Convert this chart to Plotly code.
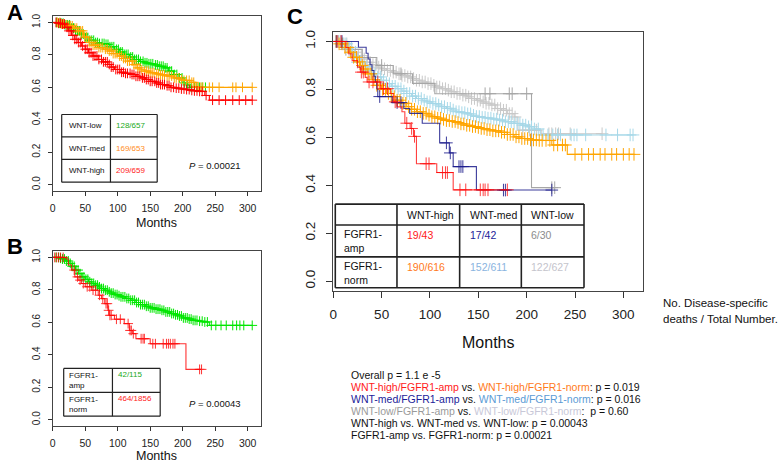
import numpy as np
import plotly.graph_objects as go

W, H = 778, 462

# ---------------- DATA ----------------
TICKS_X = [0, 50, 100, 150, 200, 250, 300]
TICKS_Y = [0.0, 0.2, 0.4, 0.6, 0.8, 1.0]
TICK_Y_TEXT = ["0.0", "0.2", "0.4", "0.6", "0.8", "1.0"]

# Panel A: WNT-low / WNT-med / WNT-high
a_low_t = [0, 10, 19, 27, 34, 42, 50, 57, 65, 72, 80, 88, 95, 103, 110, 118, 125, 133, 140, 148, 156, 164, 171, 178, 186, 193, 201, 206, 211]
a_low_s = [1.0, 0.995, 0.985, 0.965, 0.948, 0.928, 0.907, 0.89, 0.876, 0.87, 0.865, 0.85, 0.834, 0.818, 0.803, 0.787, 0.772, 0.76, 0.751, 0.745, 0.738, 0.73, 0.72, 0.70, 0.679, 0.658, 0.627, 0.615, 0.60]
a_low_c = [6, 10, 13, 16, 19, 23, 26, 29, 32, 35, 38, 41, 44, 47, 51, 54, 57, 60, 63, 66, 69, 72, 76, 79, 82, 85, 88, 91, 94, 98, 101, 104, 107, 110, 113, 116, 120, 123, 126, 129, 132, 135, 139, 142, 145, 148, 151, 154, 158, 161, 164, 167, 170, 173, 176, 180, 183, 187, 191, 195, 199, 203, 207, 213, 218, 222, 226, 230, 235]

a_med_t = [0, 12, 18, 24, 32, 39, 47, 55, 62, 70, 78, 85, 93, 100, 108, 115, 123, 130, 136, 141, 150, 158, 166, 175, 186, 195, 201, 211, 219]
a_med_s = [1.0, 0.99, 0.985, 0.979, 0.965, 0.948, 0.91, 0.876, 0.86, 0.845, 0.835, 0.824, 0.808, 0.793, 0.778, 0.762, 0.74, 0.72, 0.708, 0.70, 0.69, 0.683, 0.677, 0.67, 0.658, 0.65, 0.643, 0.631, 0.60]
a_med_c = [7, 11, 14, 17, 21, 24, 27, 30, 34, 37, 40, 43, 46, 49, 52, 56, 59, 62, 65, 68, 71, 74, 77, 81, 84, 87, 90, 93, 96, 99, 103, 106, 109, 112, 115, 118, 122, 125, 128, 131, 134, 137, 141, 144, 147, 150, 153, 156, 160, 163, 166, 169, 172, 176, 179, 183, 187, 190, 194, 198, 202, 206, 210, 214, 217, 221, 224, 228, 231, 241, 246, 256, 277, 282, 292, 307]

a_high_t = [0, 8, 14, 19, 24, 29, 34, 39, 44, 50, 55, 62, 70, 77, 85, 90, 95, 105, 112, 120, 128, 135, 143, 150, 158, 166, 173, 181, 188, 196, 204, 211, 218, 226, 234, 241]
a_high_s = [1.0, 0.995, 0.99, 0.97, 0.948, 0.92, 0.896, 0.876, 0.855, 0.835, 0.813, 0.793, 0.772, 0.757, 0.741, 0.725, 0.71, 0.693, 0.686, 0.679, 0.668, 0.658, 0.648, 0.637, 0.627, 0.617, 0.61, 0.60, 0.595, 0.59, 0.586, 0.581, 0.578, 0.575, 0.55, 0.521]
a_high_c = [5, 9, 12, 15, 18, 22, 25, 28, 31, 34, 37, 40, 43, 46, 50, 53, 56, 59, 62, 65, 68, 71, 75, 78, 81, 84, 87, 90, 93, 97, 100, 103, 106, 109, 112, 115, 119, 122, 125, 128, 131, 134, 138, 141, 144, 147, 150, 153, 157, 160, 163, 166, 169, 172, 176, 179, 182, 186, 190, 194, 198, 202, 206, 210, 214, 218, 222, 226, 230, 236, 246, 256, 266, 277, 287, 297, 307]

a_rows = ["WNT-low", "WNT-med", "WNT-high"]
a_counts = ["128/657", "169/653", "209/659"]
a_p = "0.00021"

# Panel B: FGFR1-norm (green curve) / FGFR1-amp (red curve)
b_norm_t = [0, 10, 15, 20, 25, 30, 35, 40, 45, 50, 55, 60, 65, 70, 75, 80, 85, 90, 95, 100, 105, 112, 120, 128, 135, 143, 150, 158, 166, 173, 181, 188, 195, 201, 208, 216, 223, 231, 241]
b_norm_s = [1.0, 0.995, 0.99, 0.978, 0.963, 0.945, 0.922, 0.90, 0.88, 0.865, 0.85, 0.84, 0.829, 0.818, 0.808, 0.798, 0.788, 0.78, 0.771, 0.764, 0.757, 0.747, 0.736, 0.722, 0.709, 0.699, 0.689, 0.681, 0.674, 0.664, 0.654, 0.646, 0.639, 0.627, 0.62, 0.612, 0.607, 0.602, 0.581]
b_norm_c = [5, 9, 12, 15, 18, 21, 24, 27, 30, 33, 36, 39, 42, 45, 48, 51, 54, 57, 60, 63, 66, 69, 72, 75, 78, 81, 84, 87, 90, 93, 96, 99, 102, 105, 108, 111, 114, 117, 120, 123, 126, 129, 132, 135, 138, 141, 144, 147, 150, 153, 156, 159, 162, 165, 168, 171, 174, 177, 180, 183, 186, 189, 192, 195, 198, 201, 204, 207, 210, 213, 216, 219, 222, 226, 230, 234, 238, 244, 251, 259, 267, 277, 283, 288, 294, 307]

b_amp_t = [0, 20, 24, 29, 34, 39, 44, 50, 60, 70, 75, 80, 85, 87, 95, 110, 118, 123, 128, 150, 205]
b_amp_s = [1.0, 0.99, 0.953, 0.922, 0.88, 0.86, 0.839, 0.819, 0.798, 0.767, 0.746, 0.715, 0.674, 0.643, 0.619, 0.592, 0.55, 0.53, 0.499, 0.468, 0.31]
b_amp_c = [3, 6, 9, 12, 16, 33, 38, 42, 47, 53, 57, 62, 66, 72, 77, 82, 84, 86, 88, 90, 98, 104, 116, 119, 121, 124, 136, 139, 141, 154, 158, 170, 175, 178, 181, 185, 188, 226, 229]

b_rows = ["FGFR1-<br>amp", "FGFR1-<br>norm"]
b_counts = ["42/115", "464/1856"]
b_p = "0.00043"

# Panel C: six groups
c_hi_amp_t = [0, 13, 16, 19.5, 25, 28, 33, 35, 49, 59, 62, 66, 71, 74, 79.5, 83, 86, 107, 124]
c_hi_amp_s = [1.0, 0.975, 0.948, 0.92, 0.893, 0.872, 0.85, 0.831, 0.803, 0.783, 0.748, 0.727, 0.707, 0.659, 0.637, 0.604, 0.49, 0.453, 0.381]
c_hi_amp_c = [4, 8, 29, 31, 37, 41, 46, 52, 56, 64, 76, 81, 84, 96, 99, 113, 116, 118, 131, 137, 152, 155, 157, 160, 180]

c_med_amp_t = [0, 26, 34, 36, 38, 40, 42, 43.5, 45, 46, 61, 73, 79, 92, 110, 120, 124, 148]
c_med_amp_s = [1.0, 0.976, 0.951, 0.927, 0.903, 0.879, 0.855, 0.831, 0.803, 0.77, 0.745, 0.72, 0.70, 0.659, 0.577, 0.535, 0.478, 0.38]
c_med_amp_c = [3, 9, 48, 66, 70, 117, 121, 130, 132, 134, 176, 178, 226]

c_low_amp_t = [0, 9, 30, 45, 62, 82, 105, 205]
c_low_amp_s = [1.0, 0.967, 0.933, 0.90, 0.865, 0.825, 0.782, 0.39]
c_low_amp_c = [5, 13, 50, 70, 157, 162, 182, 185, 200, 226, 229]

c_hi_norm_t = [0, 6, 12, 17, 21, 25, 28, 31, 35, 40, 45, 50, 55, 60, 66, 71, 76, 81, 86, 92, 97, 102, 107, 112, 117, 122, 127, 132, 138, 143, 148, 153, 158, 165, 173, 180, 187, 195, 204, 212, 226, 242]
c_hi_norm_s = [1.0, 0.99, 0.975, 0.955, 0.934, 0.915, 0.90, 0.885, 0.865, 0.84, 0.817, 0.80, 0.783, 0.77, 0.755, 0.742, 0.728, 0.717, 0.707, 0.70, 0.693, 0.686, 0.68, 0.675, 0.67, 0.666, 0.662, 0.656, 0.65, 0.645, 0.641, 0.637, 0.632, 0.627, 0.621, 0.612, 0.602, 0.595, 0.589, 0.587, 0.568, 0.529]
c_hi_norm_c = [3, 6, 9, 12, 15, 18, 21, 24, 27, 30, 33, 36, 39, 42, 45, 48, 51, 54, 57, 60, 63, 66, 69, 72, 75, 78, 81, 84, 87, 90, 93, 96, 99, 102, 105, 108, 111, 114, 117, 120, 123, 126, 129, 132, 135, 138, 141, 144, 147, 150, 153, 156, 159, 162, 165, 168, 171, 174, 177, 180, 183, 186, 189, 192, 195, 198, 201, 204, 207, 210, 213, 216, 220, 224, 228, 232, 237, 240, 250, 257, 264, 269, 276, 281, 288, 293, 300, 306, 311]

c_med_norm_t = [0, 8, 14, 20, 25, 30, 35, 40, 45, 50, 55, 60, 66, 71, 76, 81, 86, 92, 97, 102, 107, 112, 117, 122, 127, 133, 138, 143, 148, 153, 158, 165, 170, 178, 187, 194, 201, 208, 214]
c_med_norm_s = [1.0, 0.99, 0.975, 0.94, 0.913, 0.895, 0.879, 0.865, 0.852, 0.838, 0.824, 0.813, 0.803, 0.793, 0.783, 0.772, 0.762, 0.755, 0.748, 0.741, 0.735, 0.728, 0.721, 0.714, 0.707, 0.703, 0.698, 0.692, 0.687, 0.683, 0.68, 0.676, 0.672, 0.665, 0.658, 0.651, 0.644, 0.635, 0.61]
c_med_norm_c = [4, 7, 10, 13, 16, 19, 22, 25, 28, 31, 34, 37, 40, 43, 46, 49, 52, 55, 58, 61, 64, 67, 70, 73, 76, 79, 82, 85, 88, 91, 94, 97, 100, 103, 106, 109, 112, 115, 118, 121, 124, 127, 130, 133, 136, 139, 142, 145, 148, 151, 154, 157, 160, 163, 166, 169, 172, 175, 178, 181, 184, 187, 190, 193, 196, 199, 202, 205, 208, 212, 217, 222, 227, 232, 235, 246, 249, 252, 261, 282, 294, 307, 310]

c_low_norm_t = [0, 10, 16, 20, 25, 30, 35, 40, 45, 50, 55, 60, 66, 71, 76, 81, 86, 92, 97, 102, 107, 112, 117, 122, 127, 133, 138, 143, 148, 153, 158, 163, 168, 174, 180, 187, 191, 215]
c_low_norm_s = [1.0, 0.99, 0.975, 0.955, 0.941, 0.927, 0.913, 0.903, 0.893, 0.886, 0.879, 0.872, 0.865, 0.858, 0.852, 0.845, 0.838, 0.831, 0.824, 0.817, 0.81, 0.803, 0.797, 0.79, 0.783, 0.776, 0.769, 0.762, 0.755, 0.748, 0.742, 0.735, 0.72, 0.713, 0.699, 0.685, 0.63, 0.615]
c_low_norm_c = [5, 8, 11, 14, 17, 20, 23, 26, 29, 32, 35, 38, 41, 44, 47, 50, 53, 56, 59, 62, 65, 68, 71, 74, 77, 80, 83, 86, 89, 92, 95, 98, 101, 104, 107, 110, 113, 116, 119, 122, 125, 128, 131, 134, 137, 140, 143, 146, 149, 152, 155, 158, 161, 164, 167, 170, 173, 176, 179, 182, 185, 188, 196, 203, 210, 223, 226, 230, 233, 245, 278]

c_cols = ["WNT-high", "WNT-med", "WNT-low"]
c_rows = ["FGFR1-<br>amp", "FGFR1-<br>norm"]
c_counts_amp = ["19/43", "17/42", "6/30"]
c_counts_norm = ["190/616", "152/611", "122/627"]

# ---------------- STYLE ----------------
FONT = "Liberation Sans, Arial, sans-serif"
GREEN, ORANGE, RED = "#00e600", "#ffa500", "#ff0000"
NAVY, LBLUE, GRAY, LGRAY = "#1c1c8c", "#a6d8e8", "#a6a6a6", "#c8c8c8"

def px(x):
    return x / W

def py(y):
    return 1 - y / H

fig = go.Figure()

def add_km(t, s, cens, color, xa, ya, msize, opacity=1.0):
    t = np.asarray(t, float)
    s = np.asarray(s, float)
    c = np.asarray(cens, float)
    end = max(c.max(), t[-1])
    xs = np.append(t, end)
    ys = np.append(s, s[-1])
    fig.add_trace(go.Scatter(x=xs, y=ys, mode="lines", xaxis=xa, yaxis=ya,
                             line=dict(color=color, width=1.1, shape="hv"),
                             opacity=opacity, hoverinfo="skip", showlegend=False))
    idx = np.searchsorted(t, c, side="right") - 1
    fig.add_trace(go.Scatter(x=c, y=s[idx], mode="markers", xaxis=xa, yaxis=ya,
                             marker=dict(symbol="cross-thin", size=msize,
                                         line=dict(color=color, width=1)),
                             opacity=opacity, hoverinfo="skip", showlegend=False))

# Panel A
add_km(a_low_t, a_low_s, a_low_c, GREEN, "x", "y", 7)
add_km(a_med_t, a_med_s, a_med_c, ORANGE, "x", "y", 7)
add_km(a_high_t, a_high_s, a_high_c, RED, "x", "y", 7)
# Panel B
add_km(b_norm_t, b_norm_s, b_norm_c, GREEN, "x2", "y2", 7)
add_km(b_amp_t, b_amp_s, b_amp_c, RED, "x2", "y2", 7, 0.8)
# Panel C
add_km(c_low_norm_t, c_low_norm_s, c_low_norm_c, LGRAY, "x3", "y3", 9)
add_km(c_low_amp_t, c_low_amp_s, c_low_amp_c, GRAY, "x3", "y3", 9)
add_km(c_med_norm_t, c_med_norm_s, c_med_norm_c, LBLUE, "x3", "y3", 9)
add_km(c_hi_norm_t, c_hi_norm_s, c_hi_norm_c, ORANGE, "x3", "y3", 9)
add_km(c_med_amp_t, c_med_amp_s, c_med_amp_c, NAVY, "x3", "y3", 9, 0.85)
add_km(c_hi_amp_t, c_hi_amp_s, c_hi_amp_c, RED, "x3", "y3", 9, 0.75)

def xax(dom, anchor, fs, tl, so):
    return dict(domain=dom, anchor=anchor, range=[0, 320], tickvals=TICKS_X,
                ticks="outside", ticklen=tl, tickcolor="#333", showline=True,
                mirror=True, linecolor="#444", linewidth=1, showgrid=False,
                zeroline=False, tickfont=dict(family=FONT, size=fs, color="#222"),
                ticklabelstandoff=so)

def yax(dom, anchor, fs, tl, so):
    return dict(domain=dom, anchor=anchor, range=[-0.04, 1.04], tickvals=TICKS_Y,
                ticktext=TICK_Y_TEXT, tickangle=-90,
                ticks="outside", ticklen=tl, tickcolor="#333", showline=True,
                mirror=True, linecolor="#444", linewidth=1, showgrid=False,
                zeroline=False, tickfont=dict(family=FONT, size=fs, color="#222"),
                ticklabelstandoff=so)

fig.update_layout(
    width=W, height=H, margin=dict(l=0, r=0, t=0, b=0),
    paper_bgcolor="white", plot_bgcolor="white", showlegend=False,
    xaxis=xax([px(49), px(258)], "y", 10.5, 4, 3),
    yaxis=yax([py(190), py(14)], "x", 10, 4, 4),
    xaxis2=xax([px(49), px(258)], "y2", 10.5, 4, 3),
    yaxis2=yax([py(426), py(250)], "x2", 10, 4, 4),
    xaxis3=xax([px(331), px(642)], "y3", 13.5, 6, 5),
    yaxis3=yax([py(290), py(30)], "x3", 13.5, 6, 6),
)

ann = []
shapes = []

def text(x, y, s, size, color="#111", anchor="left", bold=False):
    if bold:
        s = "<b>" + s + "</b>"
    ann.append(dict(x=px(x), y=py(y), xref="paper", yref="paper", text=s,
                    showarrow=False, xanchor=anchor, yanchor="middle", align="left",
                    font=dict(family=FONT, size=size, color=color)))

def hline(x0, x1, y, w=1.2):
    shapes.append(dict(type="line", xref="paper", yref="paper", x0=px(x0), x1=px(x1),
                       y0=py(y), y1=py(y), line=dict(color="#222", width=w)))

def vline(x, y0, y1, w=1.2):
    shapes.append(dict(type="line", xref="paper", yref="paper", x0=px(x), x1=px(x),
                       y0=py(y0), y1=py(y1), line=dict(color="#222", width=w)))

# Panel letters
text(11, 11, "A", 22, "#000", "center", bold=True)
text(11, 246, "B", 22, "#000", "center", bold=True)
text(293, 15, "C", 22, "#000", "center", bold=True)

# Axis titles
text(153.5, 221.5, "Months", 12.5, "#111", "center")
text(153.5, 456, "Months", 12.5, "#111", "center")
text(486.5, 342, "Months", 16, "#111", "center")

# Table A
ax0, ax1, axm = 58, 154, 107
ay = [113, 135.5, 158, 181]
for yy in ay:
    hline(ax0, ax1, yy)
vline(ax0, ay[0], ay[-1]); vline(ax1, ay[0], ay[-1]); vline(axm, ay[0], ay[-1])
a_cols = ["#22aa22", "#ff8c1a", "#ff1a1a"]
for i in range(3):
    yc = (ay[i] + ay[i + 1]) / 2
    text(63, yc, a_rows[i], 8, "#111")
    text(111, yc, a_counts[i], 8, a_cols[i])
text(212, 164, "<i>P</i> = " + a_p, 9.5, "#111", "center")

# Table B
bx0, bx1, bxm = 60, 157, 109
by = [368, 392, 416]
for yy in by:
    hline(bx0, bx1, yy)
vline(bx0, by[0], by[-1]); vline(bx1, by[0], by[-1]); vline(bxm, by[0], by[-1])
b_cols = ["#22aa22", "#ff1a1a"]
for i in range(2):
    text(63, by[i] + 12, b_rows[i], 8, "#111")
    text(113, by[i] + 6.5, b_counts[i], 8, b_cols[i])
text(212, 403, "<i>P</i> = " + b_p, 9.5, "#111", "center")

# Table C
cx = [333, 395, 458, 520, 583]
cy = [203, 224, 256, 287]
for yy in cy:
    hline(cx[0], cx[-1], yy, 1.6)
for xx in cx:
    vline(xx, cy[0], cy[-1], 1.6)
for j in range(3):
    text(cx[j + 1] + 8, 214, c_cols[j], 10.5, "#111")
text(340, 240.5, c_rows[0], 10.5, "#111")
text(340, 272, c_rows[1], 10.5, "#111")
amp_cols = ["#ff1a1a", "#1c1c99", "#8c8c8c"]
norm_cols = ["#ff7a1a", "#8ab4e0", "#c4c4cc"]
for j in range(3):
    text(cx[j + 1] + 8, 234, c_counts_amp[j], 10.5, amp_cols[j])
    text(cx[j + 1] + 8, 266, c_counts_norm[j], 10.5, norm_cols[j])

# Right note
text(660, 302, "No. Disease-specific", 11.5, "#111")
text(660, 318, "deaths / Total Number.", 11.5, "#111")

# Bottom stats
def sp(s, c):
    return '<span style="color:' + c + '">' + s + '</span>'

lines = [
    "Overall p = 1.1 e -5",
    sp("WNT-high/FGFR1-amp", "#ff1a1a") + " vs. " + sp("WNT-high/FGFR1-norm", "#ff7a1a") + ": p = 0.019",
    sp("WNT-med/FGFR1-amp", "#1c1c99") + " vs. " + sp("WNT-med/FGFR1-norm", "#5b9bd5") + ": p = 0.016",
    sp("WNT-low/FGFR1-amp", "#9a9a9a") + " vs. " + sp("WNT-low/FGFR1-norm", "#c8c8d8") + ": &nbsp;p = 0.60",
    "WNT-high vs. WNT-med vs. WNT-low: p = 0.00043",
    "FGFR1-amp vs. FGFR1-norm: p = 0.00021",
]
for k, l in enumerate(lines):
    text(347, 375 + 12 * k, l, 10.5, "#111")

fig.update_layout(annotations=ann, shapes=shapes)
fig.write_html("out.html", config={"displayModeBar": False},
               post_script="document.body.style.margin='0';document.body.style.overflow='hidden';")
